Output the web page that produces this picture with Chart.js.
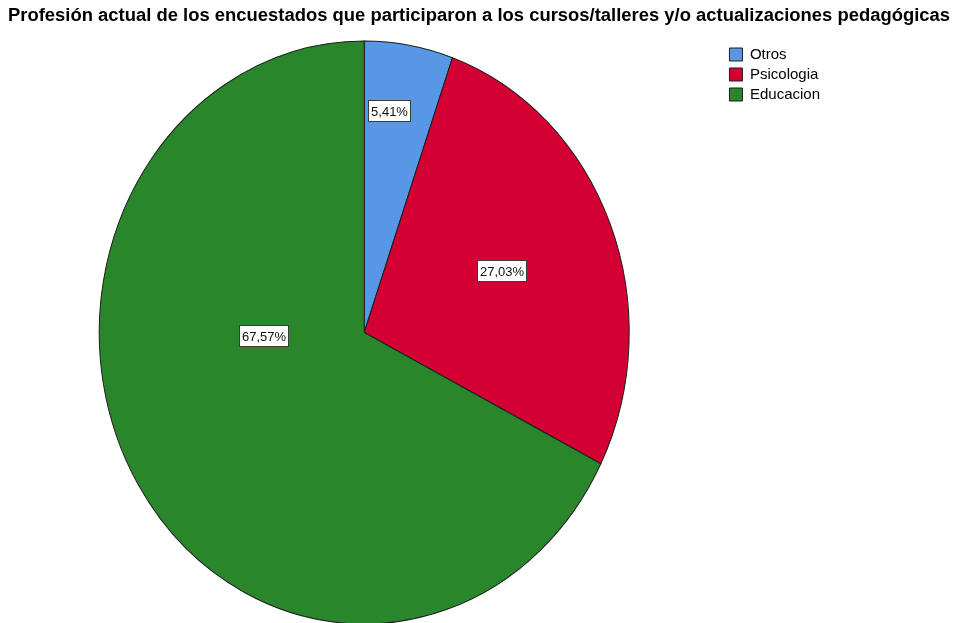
<!DOCTYPE html>
<html>
<head>
<meta charset="utf-8">
<script src="https://cdn.jsdelivr.net/npm/chart.js@4.4.1/dist/chart.umd.min.js"></script>
<style>
  html, body { margin: 0; padding: 0; background: #fff; }
  #wrap { width: 957px; height: 623px; }
</style>
</head>
<body>
<div id="wrap"><canvas id="ProfesionChart" width="957" height="623"></canvas></div>
<script>
const titulo = 'Profesión actual de los encuestados que participaron a los cursos/talleres y/o actualizaciones pedagógicas';
const categorias = ['Otros', 'Psicologia', 'Educacion'];
const frecuencias = [2, 10, 25];
const porcentajes = ['5,41%', '27,03%', '67,57%'];
const colores = ['rgb(87,151,230)', 'rgb(212,0,52)', 'rgb(42,134,42)'];

const fuente = "'Liberation Sans', Arial, sans-serif";

// fit a text line to a given width
function textoAjustado(ctx, txt, x, y, squeeze) {
  ctx.save();
  ctx.translate(x, y);
  ctx.scale(squeeze, 1);
  ctx.fillText(txt, 0, 0);
  ctx.restore();
}

// SPSS draws the pie a bit taller than wide
const ellipse = {
  id: 'ellipse',
  beforeDatasetsDraw(chart, args, opts) {
    const arc = chart.getDatasetMeta(0).data[0];
    const ctx = chart.ctx;
    ctx.save();
    ctx.translate(arc.x, arc.y);
    ctx.scale(1, opts.stretch);
    ctx.translate(-arc.x, -arc.y);
  },
  afterDatasetsDraw(chart, args, opts) {
    chart.ctx.restore();
  }
};

const tituloPlugin = {
  id: 'tituloPlugin',
  afterDraw(chart, args, opts) {
    const ctx = chart.ctx;
    ctx.save();
    ctx.font = 'bold 18px ' + fuente;
    ctx.fillStyle = '#000';
    ctx.textAlign = 'center';
    ctx.textBaseline = 'alphabetic';
    const w = ctx.measureText(titulo).width;
    textoAjustado(ctx, titulo, opts.x, opts.y, opts.width / w);
    ctx.restore();
  }
};

const etiquetas = {
  id: 'etiquetas',
  afterDatasetsDraw(chart, args, opts) {
    const ctx = chart.ctx;
    const stretch = chart.options.plugins.ellipse.stretch;
    ctx.save();
    ctx.font = '13px ' + fuente;
    ctx.textAlign = 'center';
    ctx.textBaseline = 'middle';
    chart.getDatasetMeta(0).data.forEach((arc, i) => {
      const r = arc.outerRadius;
      const spot = opts.spots[i];
      const x = arc.x + spot[0] * r;
      const y = arc.y + spot[1] * r * stretch;
      const txt = porcentajes[i];
      const w = Math.round(ctx.measureText(txt).width + 5);
      const h = 21;
      const bx = Math.round(x - w / 2) + 0.5;
      const by = Math.round(y - h / 2) + 0.5;
      ctx.fillStyle = '#fff';
      ctx.fillRect(bx, by, w, h);
      ctx.strokeStyle = '#3c3c3c';
      ctx.lineWidth = 1;
      ctx.strokeRect(bx, by, w, h);
      ctx.fillStyle = '#111';
      ctx.fillText(txt, bx + w / 2, by + h / 2 + 1);
    });
    ctx.restore();
  }
};

const ctx = document.getElementById('ProfesionChart').getContext('2d');
new Chart(ctx, {
  type: 'pie',
  data: {
    labels: categorias,
    datasets: [{
      data: frecuencias,
      backgroundColor: colores,
      borderColor: '#1e1e1e',
      borderWidth: 1,
      borderJoinStyle: 'miter'
    }]
  },
  options: {
    responsive: false,
    animation: false,
    radius: 265,
    layout: { padding: { left: 4, right: 127, top: 42, bottom: 0 } },
    plugins: {
      ellipse: { stretch: 1.1 },
      tituloPlugin: { x: 479, y: 21, width: 942 },
      etiquetas: { spots: [[0.094, -0.76], [0.517, -0.213], [-0.381, 0.01]] },
      title: { display: false },
      legend: {
        position: 'right',
        align: 'start',
        labels: {
          color: '#000',
          font: { family: fuente, size: 15 },
          boxWidth: 13,
          boxHeight: 13,
          padding: 5
        }
      },
      tooltip: { enabled: false }
    }
  },
  plugins: [ellipse, tituloPlugin, etiquetas]
});
</script>
</body>
</html>
